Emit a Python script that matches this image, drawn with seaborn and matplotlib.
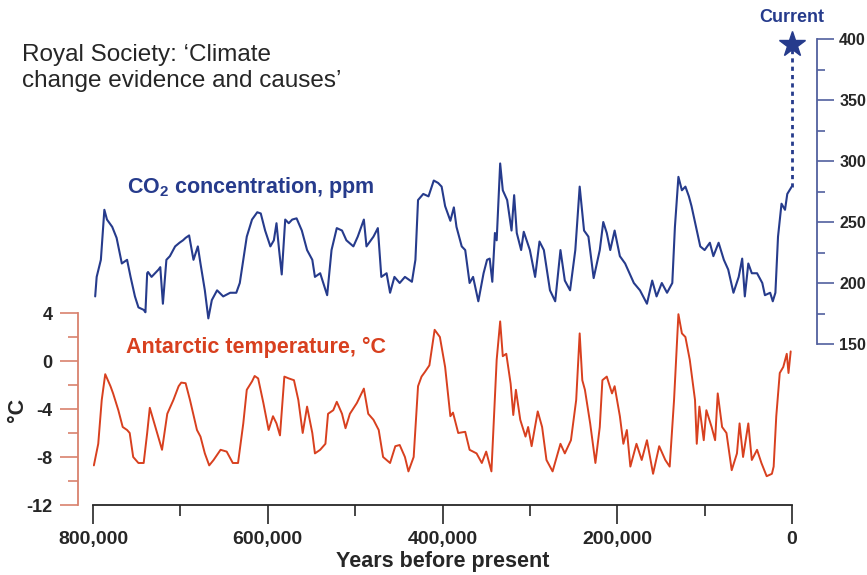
#%%
# Ice core record: CO2 and Antarctic temperature over 800,000 years
import numpy as np
import pandas as pd
import seaborn as sns
import matplotlib
matplotlib.use("Agg")
import matplotlib.pyplot as plt
from matplotlib.ticker import FixedLocator

#%%
# data (thousands of years before present)
co2_kyr = [797.5, 795.8, 791, 787, 784, 778, 773, 767, 761, 757, 752, 748, 742, 740, 738, 737,
           733, 725, 723, 720, 716, 712, 706, 701, 697, 694, 690, 685, 680, 677, 672, 668,
           664, 658, 651, 643, 636, 632, 628, 624, 618, 612, 608, 603, 597, 593, 590, 587,
           584, 580, 576, 572, 567, 561, 555, 549, 546, 540, 532, 527, 521, 515, 510, 502,
           497, 490, 487, 479, 474, 470, 464, 460, 455, 449, 443, 435, 431, 428, 422, 416,
           410, 405, 401, 397, 391, 387, 384, 378, 374, 369, 365, 359, 353, 349, 346, 343,
           340, 338, 334, 331, 326, 321, 318, 315, 310, 307, 300, 294, 289, 284, 277, 271,
           265, 260, 254, 248, 243, 238, 233, 227, 220, 216, 212, 208, 203, 197, 191, 181,
           174, 166, 160, 155, 149, 143, 137, 134, 130, 126, 122, 118, 115, 109, 105, 100,
           94, 90, 84, 78, 73, 67, 61, 57, 54, 50, 46, 40, 34, 31, 25, 22,
           19, 16, 12, 8, 5.4, 0.3]
co2_ppm = [189, 205, 219, 260, 252, 246, 237, 216, 219, 205, 189, 180, 178, 176, 208, 209,
           205, 211, 213, 183, 219, 222, 230, 233, 235, 237, 239, 219, 230, 216, 194, 171,
           186, 194, 189, 192, 192, 200, 219, 238, 252, 258, 257, 243, 230, 235, 249, 227,
           207, 252, 249, 252, 253, 243, 227, 219, 205, 208, 190, 227, 245, 243, 235, 230,
           238, 252, 230, 238, 245, 205, 208, 192, 205, 200, 205, 201, 219, 268, 273, 271,
           284, 282, 279, 263, 251, 262, 246, 230, 227, 200, 205, 185, 208, 219, 220, 201,
           241, 235, 298, 276, 268, 243, 272, 241, 227, 242, 227, 205, 234, 227, 194, 185,
           227, 202, 194, 227, 279, 243, 238, 204, 227, 250, 241, 227, 243, 222, 216, 200,
           194, 183, 202, 189, 200, 192, 200, 246, 287, 276, 279, 271, 263, 243, 230, 227,
           233, 222, 233, 219, 211, 192, 205, 220, 189, 216, 208, 208, 200, 190, 192, 185,
           192, 238, 265, 260, 273, 279]

temp_kyr = [799, 794, 790, 786, 780, 777, 771, 766, 761, 758, 754, 748, 742, 738, 735, 731,
            721, 715, 708, 702, 699, 694, 689, 681, 677, 672, 667, 662, 654, 647, 640, 634,
            628, 624, 618, 615, 611, 605, 599, 594, 590, 586, 581, 576, 570, 565, 560, 555,
            549, 546, 540, 534, 531, 525, 521, 515, 511, 506, 498, 490, 485, 479, 473, 468,
            460, 454, 449, 443, 439, 433, 428, 424, 420, 415, 409, 403, 397, 391, 388, 382,
            374, 369, 361, 355, 350, 344, 338, 334, 331, 327, 322, 319, 316, 311, 305, 302,
            298, 291, 286, 281, 274, 265, 260, 253, 247, 243, 240, 237, 231, 225, 220, 217,
            212, 206, 203, 197, 193, 189, 185, 178, 172, 166, 159, 152, 145, 140, 135, 130,
            126, 122, 117, 111, 109, 106, 101, 98, 92, 88, 85, 80, 75, 69, 63, 60,
            56, 50, 46, 40, 35, 29, 23, 21, 18, 14, 10, 6, 4, 1.5]
temp_c = [-8.7, -6.9, -3.25, -1.1, -2.1, -2.7, -4.1, -5.5, -5.75, -6.0, -8.0, -8.5, -8.5, -6.0, -3.9, -4.9,
          -7.4, -4.4, -3.25, -2.1, -1.8, -1.85, -3.25, -5.75, -6.3, -7.7, -8.7, -8.25, -7.4, -7.55, -8.5, -8.5,
          -5.2, -2.4, -1.7, -1.25, -1.45, -3.5, -5.75, -4.6, -5.2, -6.2, -1.3, -1.45, -1.6, -3.25, -6.0, -3.8,
          -6.0, -7.7, -7.4, -6.9, -4.4, -4.1, -3.4, -4.4, -5.6, -4.4, -3.5, -2.3, -4.4, -4.9, -5.75, -8.0,
          -8.5, -7.1, -7.0, -8.0, -9.2, -8.0, -2.1, -1.3, -0.9, -0.36, 2.6, 2.0, -0.5, -4.6, -4.3, -6.0,
          -5.9, -7.4, -7.7, -8.5, -7.55, -9.2, 0.1, 3.3, 0.4, 0.6, -1.9, -4.5, -2.4, -4.9, -6.3, -5.5,
          -7.1, -4.2, -5.5, -8.25, -9.2, -6.9, -7.7, -6.6, -3.25, 2.3, -1.6, -2.4, -5.2, -8.5, -5.5, -1.6,
          -1.3, -2.7, -2.1, -4.6, -6.9, -5.75, -8.8, -6.9, -8.25, -6.6, -9.4, -7.1, -8.25, -8.8, -3.25, 3.9,
          2.3, 2.0, 0.1, -3.25, -6.9, -3.8, -6.6, -4.1, -5.5, -6.6, -2.7, -5.5, -6.0, -9.1, -7.7, -5.2,
          -8.0, -5.2, -8.25, -7.4, -8.5, -9.6, -9.4, -8.8, -4.6, -1.0, -0.5, 0.6, -1.0, 0.8]

current_kyr = 0.5
current_ppm = 396
last_ppm = 279

x_major = [800, 600, 400, 200, 0]
x_labels = ["800,000", "600,000", "400,000", "200,000", "0"]
x_minor = [700, 500, 300, 100]
temp_ticks = [4, 0, -4, -8, -12]
co2_ticks = [400, 350, 300, 250, 200, 150]

co2_df = pd.DataFrame({"kyr": co2_kyr, "ppm": co2_ppm})
temp_df = pd.DataFrame({"kyr": temp_kyr, "temp": temp_c})

#%%
sns.set_style("ticks")
plt.rcParams["font.family"] = ["Liberation Sans", "DejaVu Sans"]
plt.rcParams["mathtext.fontset"] = "custom"
plt.rcParams["mathtext.rm"] = "Liberation Sans:bold"
plt.rcParams["mathtext.default"] = "rm"
plt.rcParams["axes.unicode_minus"] = False

blue = "#263b8c"
red = "#d8401f"
red_axis = "#d9816d"
blue_axis = "#52609e"

W, H = 867, 575
fig = plt.figure(figsize=(W / 100, H / 100), dpi=100)

def px_box(x0, y_top, x1, y_bot):
    return [x0 / W, 1 - y_bot / H, (x1 - x0) / W, (y_bot - y_top) / H]

ax_t = fig.add_axes(px_box(93, 313, 792, 505))
ax_c = fig.add_axes(px_box(93, 39, 792, 344))
for ax in (ax_t, ax_c):
    ax.patch.set_visible(False)
    ax.set_xlim(800, 0)

# temperature
sns.lineplot(data=temp_df, x="kyr", y="temp", ax=ax_t, color=red, lw=1.4,
             sort=False, estimator=None)
ax_t.set_ylim(-12, 4)
ax_t.spines["top"].set_visible(False)
ax_t.spines["right"].set_visible(False)
ax_t.spines["left"].set_position(("outward", 11))
ax_t.spines["left"].set_color(red_axis)
ax_t.spines["left"].set_linewidth(1.3)
ax_t.spines["bottom"].set_linewidth(1.3)
ax_t.yaxis.set_major_locator(FixedLocator(temp_ticks))
ax_t.yaxis.set_minor_locator(FixedLocator([2, -2, -6, -10]))
ax_t.tick_params(axis="y", which="major", length=13, width=1.2, color=red_axis, pad=5,
                 labelsize=13)
ax_t.tick_params(axis="y", which="minor", length=7, width=1.2, color=red_axis)
ax_t.xaxis.set_major_locator(FixedLocator(x_major))
ax_t.xaxis.set_minor_locator(FixedLocator(x_minor))
ax_t.set_xticklabels(x_labels)
ax_t.tick_params(axis="x", which="major", length=14, width=1.2, pad=5, labelsize=14)
ax_t.tick_params(axis="x", which="minor", length=8, width=1.2)
for lab in ax_t.get_xticklabels() + ax_t.get_yticklabels():
    lab.set_fontweight("bold")
ax_t.set_xlabel("Years before present", fontsize=15.5, fontweight="bold", labelpad=2)
ax_t.set_ylabel("")

# CO2
sns.lineplot(data=co2_df, x="kyr", y="ppm", ax=ax_c, color=blue, lw=1.5,
             sort=False, estimator=None)
ax_c.plot([current_kyr, current_kyr], [last_ppm, current_ppm], color=blue, lw=2,
          ls=(0, (1.5, 1.5)), clip_on=False)
ax_c.plot([current_kyr], [current_ppm], marker="*", ms=19, color=blue, clip_on=False)
ax_c.set_ylim(150, 400)
for side in ("top", "left", "bottom"):
    ax_c.spines[side].set_visible(False)
ax_c.spines["right"].set_position(("outward", 18))
ax_c.spines["right"].set_color(blue_axis)
ax_c.spines["right"].set_linewidth(1.3)
ax_c.yaxis.tick_right()
ax_c.yaxis.set_major_locator(FixedLocator(co2_ticks))
ax_c.yaxis.set_minor_locator(FixedLocator([375, 325, 275, 225, 175]))
ax_c.tick_params(axis="y", which="major", length=12, width=1.2, color=blue_axis, pad=4,
                 labelsize=11.5)
ax_c.tick_params(axis="y", which="minor", length=6, width=1.2, color=blue_axis)
for lab in ax_c.get_yticklabels():
    lab.set_fontweight("bold")
ax_c.set_xticks([])
ax_c.set_xlabel("")
ax_c.set_ylabel("")

# texts
fig.text(22 / W, 1 - 44 / H, "Royal Society: \u2018Climate\nchange evidence and causes\u2019",
         fontsize=17.5, va="top", ha="left", linespacing=1.25)
fig.text(251 / W, 1 - 187 / H, "CO$_2$ concentration, ppm", color=blue, fontsize=15.5,
         fontweight="bold", ha="center", va="center")
fig.text(256 / W, 1 - 347 / H, "Antarctic temperature, \u00b0C", color=red, fontsize=15.5,
         fontweight="bold", ha="center", va="center")
fig.text(792 / W, 1 - 18 / H, "Current", color=blue, fontsize=13, fontweight="bold",
         ha="center", va="center")
fig.text(17 / W, 1 - 410 / H, "\u00b0C", fontsize=15.5, fontweight="bold", rotation=90,
         ha="center", va="center")

fig.savefig("out.png", dpi=100)
